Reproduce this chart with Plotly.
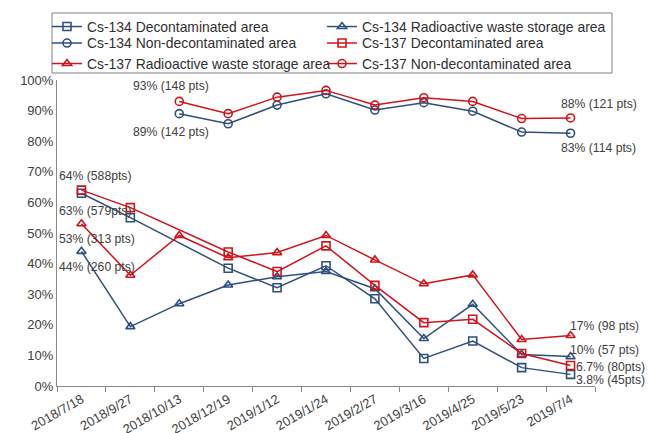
import plotly.graph_objects as go

dates = ["2018/7/18", "2018/9/27", "2018/10/13", "2018/12/19", "2019/1/12", "2019/1/24",
         "2019/2/27", "2019/3/16", "2019/4/25", "2019/5/23", "2019/7/4"]

cs134_decon = [0.63, 0.55, None, 0.385, 0.321, 0.393, 0.285, 0.090, 0.147, 0.060, 0.038]
cs134_waste = [0.44, 0.194, 0.269, 0.330, 0.357, 0.374, 0.318, 0.155, 0.267, 0.103, 0.096]
cs134_nondecon = [None, None, 0.89, 0.857, 0.918, 0.955, 0.902, 0.926, 0.898, 0.830, 0.826]
cs137_decon = [0.64, 0.583, None, 0.438, 0.374, 0.458, 0.329, 0.207, 0.218, 0.106, 0.067]
cs137_waste = [0.53, 0.362, 0.492, 0.419, 0.436, 0.492, 0.412, 0.334, 0.363, 0.152, 0.165]
cs137_nondecon = [None, None, 0.93, 0.890, 0.944, 0.966, 0.918, 0.942, 0.930, 0.874, 0.876]

series_names = ["Cs-134 Decontaminated area", "Cs-134 Radioactive waste storage area",
                "Cs-134 Non-decontaminated area", "Cs-137 Decontaminated area",
                "Cs-137 Radioactive waste storage area", "Cs-137 Non-decontaminated area"]

BLUE = "#2f4f7f"
RED = "#d0141c"
TEXT = "#404040"
FONT = "Liberation Sans, Arial"

W, H = 648, 433
ML, MR, MT, MB = 57, 53, 80, 47
PW, PH = W - ML - MR, H - MT - MB


def px_x(p):
    return (p - ML) / PW


def px_y(p):
    return 1 - (p - MT) / PH


fig = go.Figure()
# (values, colour, symbol)
styles = [
    (cs134_decon, BLUE, "square-open"),
    (cs134_waste, BLUE, "triangle-up-open"),
    (cs134_nondecon, BLUE, "circle-open"),
    (cs137_decon, RED, "square-open"),
    (cs137_waste, RED, "triangle-up-open"),
    (cs137_nondecon, RED, "circle-open"),
]
legend_ids = ["legend", "legend2", "legend3", "legend4", "legend5", "legend6"]
for name, (vals, col, sym), lg in zip(series_names, styles, legend_ids):
    fig.add_trace(go.Scatter(
        x=dates, y=vals, name=name, mode="lines+markers", connectgaps=True,
        line=dict(color=col, width=1.5), legend=lg,
        marker=dict(symbol=sym, size=8, color=col, line=dict(color=col, width=1.6)),
    ))

# annotations: (text, x, y, xanchor, xshift, yshift)
labels = [
    ("64% (588pts)", dates[0], cs137_decon[0], "left", -24, 14),
    ("63% (579pts)", dates[0], cs134_decon[0], "left", -24, -18),
    ("53% (313 pts)", dates[0], cs137_waste[0], "left", -24, -15),
    ("44% (260 pts)", dates[0], cs134_waste[0], "left", -24, -16),
    ("93% (148 pts)", dates[2], cs137_nondecon[2], "center", -8, 15),
    ("89% (142 pts)", dates[2], cs134_nondecon[2], "center", -8, -18),
    ("88% (121 pts)", dates[10], cs137_nondecon[10], "left", -12, 14),
    ("83% (114 pts)", dates[10], cs134_nondecon[10], "left", -12, -15),
    ("17% (98 pts)", dates[10], cs137_waste[10], "left", -3, 10),
    ("10% (57 pts)", dates[10], cs134_waste[10], "left", -3, 7),
    ("6.7% (80pts)", dates[10], cs137_decon[10], "left", 3, -1),
    ("3.8% (45pts)", dates[10], cs134_decon[10], "left", 3, -6),
]
for text, x, y, xa, xs, ys in labels:
    fig.add_annotation(x=x, y=y, xref="x", yref="y", text=text, showarrow=False,
                       xanchor=xa, yanchor="middle", xshift=xs, yshift=ys,
                       font=dict(size=12.2, color=TEXT, family=FONT))

# legend frame
fig.add_shape(type="rect", xref="paper", yref="paper",
              x0=px_x(52), x1=px_x(612), y0=px_y(73), y1=px_y(13),
              line=dict(color="#808080", width=1), fillcolor="rgba(0,0,0,0)", layer="above")

leg_common = dict(orientation="v", xanchor="left", yanchor="top", borderwidth=0,
                  bgcolor="rgba(0,0,0,0)", itemwidth=30, tracegroupgap=0,
                  font=dict(size=13.9, color="#303030", family=FONT))
# legend item placement (left px, top px): two columns, three rows
leg_pos = [(47, 11), (322, 11), (47, 27.5), (322, 27.5), (47, 48), (322, 48)]
leg_layout = {lg: dict(x=px_x(lx), y=px_y(ly), **leg_common)
              for lg, (lx, ly) in zip(legend_ids, leg_pos)}

fig.update_layout(
    width=W, height=H,
    margin=dict(l=ML, r=MR, t=MT, b=MB, autoexpand=False),
    paper_bgcolor="white", plot_bgcolor="white",
    font=dict(family=FONT, size=13, color=TEXT),
    showlegend=True,
    **leg_layout,
)
fig.update_xaxes(type="category", categoryorder="array", categoryarray=dates,
                 range=[-0.5, len(dates) - 0.5], autorange=False,
                 showline=True, linecolor="#888888", linewidth=1,
                 ticks="outside", tickson="boundaries", ticklen=5, tickcolor="#888888",
                 tickangle=-30, showgrid=False, zeroline=False, automargin=False,
                 tickfont=dict(size=13, color=TEXT))
fig.update_yaxes(range=[0, 1], autorange=False, tickformat=".0%", dtick=0.1, tick0=0,
                 showline=True, linecolor="#888888", linewidth=1,
                 ticks="", showgrid=False, zeroline=False, automargin=False,
                 tickfont=dict(size=13, color=TEXT))

fig.write_html("out.html", config={"displayModeBar": False},
               post_script="document.body.style.margin='0';")
